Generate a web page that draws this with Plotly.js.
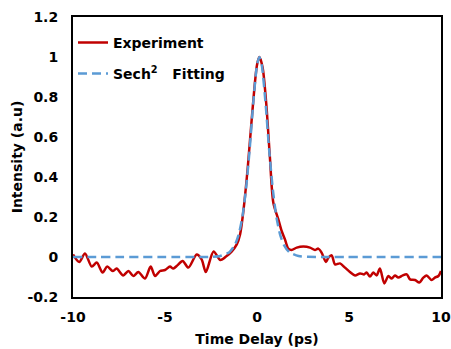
<!DOCTYPE html>
<html><head><meta charset="utf-8">
<script src="https://cdn.plot.ly/plotly-3.0.1.min.js"></script>
<style>html,body{margin:0;padding:0;background:#fff}</style>
</head><body><div id="chart" style="width:451px;height:349px"></div>
<script>
const expX = [-10, -9.66, -9.35, -8.98, -8.71, -8.39, -8.14, -7.84, -7.63, -7.27, -6.99, -6.72, -6.45, -6.09, -5.78, -5.54, -5.27, -5.0, -4.73, -4.55, -4.33, -4.04, -3.73, -3.28, -3.01, -2.78, -2.36, -1.99, -1.65, -1.38, -1.1, -0.92, -0.74, -0.5, -0.25, 0, 0.13, 0.3, 0.5, 0.7, 0.89, 1.16, 1.34, 1.52, 1.7, 1.88, 2.16, 2.52, 2.88, 3.15, 3.33, 3.51, 3.75, 3.88, 4.06, 4.24, 4.51, 4.78, 5.05, 5.33, 5.6, 5.82, 5.96, 6.14, 6.32, 6.5, 6.68, 6.92, 7.14, 7.32, 7.5, 7.68, 7.92, 8.14, 8.32, 8.59, 8.82, 9.04, 9.22, 9.49, 9.67, 9.86, 10];
const expY = [0.013, -0.025, 0.018, -0.048, -0.028, -0.078, -0.048, -0.07, -0.058, -0.092, -0.07, -0.095, -0.075, -0.108, -0.048, -0.095, -0.07, -0.065, -0.048, -0.058, -0.042, -0.02, -0.053, 0.012, -0.012, -0.075, 0.028, -0.015, 0.005, 0.027, 0.063, 0.113, 0.23, 0.45, 0.73, 0.96, 1.0, 0.95, 0.77, 0.5, 0.27, 0.188, 0.13, 0.088, 0.042, 0.035, 0.047, 0.052, 0.047, 0.035, 0.042, 0.022, -0.025, -0.003, 0.008, -0.037, -0.032, -0.053, -0.075, -0.092, -0.082, -0.087, -0.078, -0.098, -0.078, -0.092, -0.058, -0.132, -0.095, -0.108, -0.092, -0.103, -0.092, -0.087, -0.112, -0.115, -0.128, -0.103, -0.092, -0.115, -0.103, -0.095, -0.07];
const fitX = [-10, -3, -2.5, -2, -1.5, -1.2, -1, -0.8, -0.6, -0.4, -0.2, 0, 0.13, 0.26, 0.46, 0.66, 0.86, 1.06, 1.26, 1.46, 1.76, 2.26, 2.76, 3.5, 10];
const fitY = [0, 0, 0.001, 0.005, 0.024, 0.061, 0.111, 0.197, 0.338, 0.537, 0.775, 0.96, 1, 0.96, 0.775, 0.537, 0.338, 0.197, 0.111, 0.061, 0.024, 0.005, 0.001, 0, 0];
const yTickVals = [-0.2, 0, 0.2, 0.4, 0.6, 0.8, 1, 1.2];
const yTickText = ['-0.2', '0', '0.2', '0.4', '0.6', '0.8', '1', '1.2'];
const xTickVals = [-10, -5, 0, 5, 10];
const xTickText = ['-10', '-5', '0', '5', '10'];
const seriesNames = ['Experiment', 'Sech<sup>2</sup>   Fitting'];

const FONT = 'Century Gothic, DejaVu Sans, sans-serif';
const traces = [
  {x: expX, y: expY, name: seriesNames[0], mode: 'lines', legendgroup: 'a',
   line: {color: '#C00000', width: 2.5, shape: 'spline', smoothing: 0.8}},
  {x: fitX, y: fitY, name: seriesNames[1], mode: 'lines', legendgroup: 'b',
   line: {color: '#5B9BD5', width: 2.5, shape: 'spline', smoothing: 0.6, dash: '9px,5px'}}
];
const layout = {
  width: 451, height: 349,
  margin: {l: 73, r: 10, t: 17, b: 52},
  paper_bgcolor: '#fff', plot_bgcolor: '#fff',
  font: {family: FONT, size: 14, color: '#000', weight: 'bold'},
  showlegend: true,
  legend: {x: 0.0, y: 0.965, xanchor: 'left', yanchor: 'top', bgcolor: 'rgba(0,0,0,0)',
    font: {family: FONT, size: 14, color: '#000', weight: 'bold'},
    traceorder: 'grouped', tracegroupgap: 10, itemwidth: 30},
  xaxis: {range: [-10, 10], tickvals: xTickVals, ticktext: xTickText, showgrid: false, zeroline: false,
    showline: true, linecolor: '#000', linewidth: 2, mirror: true, ticks: '', ticklabelstandoff: 6,
    tickfont: {family: FONT, size: 14, weight: 'bold'},
    title: {text: 'Time Delay (ps)', font: {family: FONT, size: 14, weight: 'bold'}, standoff: 10}},
  yaxis: {range: [-0.2, 1.2], tickvals: yTickVals, ticktext: yTickText, showgrid: false, zeroline: false,
    showline: true, linecolor: '#000', linewidth: 2, mirror: true, ticks: '', ticklabelstandoff: 10,
    tickfont: {family: FONT, size: 14, weight: 'bold'},
    title: {text: 'Intensity (a.u)', font: {family: FONT, size: 14, weight: 'bold'}, standoff: 2}}
};
Plotly.newPlot('chart', traces, layout, {displayModeBar: false, staticPlot: true});
</script></body></html>
